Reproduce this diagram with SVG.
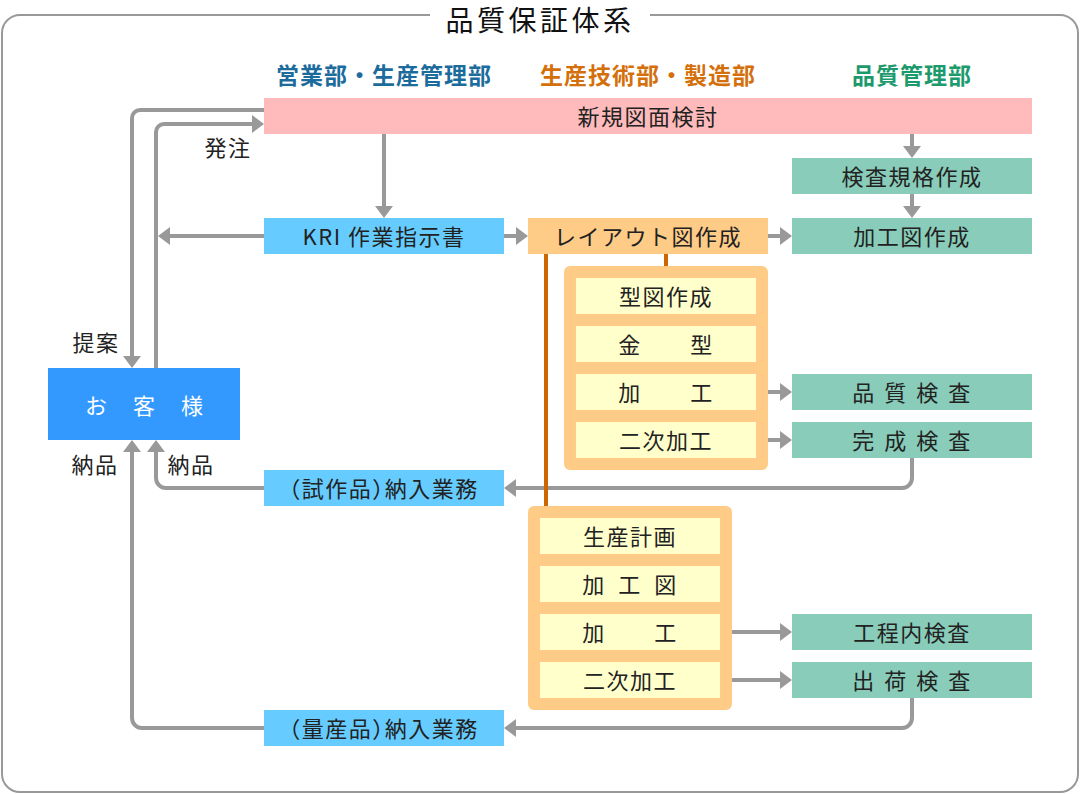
<svg xmlns="http://www.w3.org/2000/svg" width="1080" height="794" viewBox="0 0 1080 794">
<style>
text{font-family:"Noto Sans CJK JP","Noto Sans",sans-serif;text-anchor:middle;dominant-baseline:central}
.t{font-size:22px;fill:#222;letter-spacing:1.5px}
.p{font-feature-settings:"halt"}
.w{font-size:22px;fill:#fff}
.h{font-size:23px;font-weight:bold;letter-spacing:1px}
.ttl{font-size:28px;fill:#111;letter-spacing:3.5px}
.c{fill:none;stroke:#999;stroke-width:4}
.o{fill:none;stroke:#cc6600;stroke-width:4}
.pink{fill:#ffbbbb}
.blue{fill:#66ccff}
.org{fill:#ffcc88}
.teal{fill:#88ccb9}
.cream{fill:#ffffcc}
</style>
<defs>
<marker id="ah" viewBox="0 0 12 18" refX="0" refY="9" markerWidth="12" markerHeight="18" markerUnits="userSpaceOnUse" orient="auto">
<path d="M0,0 L12,9 L0,18 z" fill="#999"/>
</marker>
</defs>
<rect width="1080" height="794" fill="#fff"/>
<g id="frame">
<path d="M430 15 H20 A18 18 0 0 0 2 33 V774 A18 18 0 0 0 20 792 H1060 A18 18 0 0 0 1078 774 V33 A18 18 0 0 0 1060 15 H650" fill="none" stroke="#999" stroke-width="2"/>
<text class="ttl" x="540" y="19">品質保証体系</text>
</g>
<g id="headers">
<text class="h" x="384" y="74" fill="#1b6c9c">営業部・生産管理部</text>
<text class="h" x="648" y="74" fill="#d4700c">生産技術部・製造部</text>
<text class="h" x="912" y="74" fill="#1d9a6c">品質管理部</text>
</g>
<g id="connectors">
<path class="c" d="M264 110 H140 A8 8 0 0 0 132 118 V356" marker-end="url(#ah)"/>
<path class="c" d="M156 368 V132 A8 8 0 0 1 164 124 H252" marker-end="url(#ah)"/>
<path class="c" d="M384 134 V206" marker-end="url(#ah)"/>
<path class="c" d="M912 134 V146" marker-end="url(#ah)"/>
<path class="c" d="M912 194 V206" marker-end="url(#ah)"/>
<path class="c" d="M264 236 H170" marker-end="url(#ah)"/>
<path class="c" d="M504 236 H516" marker-end="url(#ah)"/>
<path class="c" d="M768 236 H780" marker-end="url(#ah)"/>
<path class="c" d="M768 392 H780" marker-end="url(#ah)"/>
<path class="c" d="M768 440 H780" marker-end="url(#ah)"/>
<path class="c" d="M912 458 V478 A10 10 0 0 1 902 488 H516" marker-end="url(#ah)"/>
<path class="c" d="M264 488 H166 A10 10 0 0 1 156 478 V452" marker-end="url(#ah)"/>
<path class="c" d="M732 632 H780" marker-end="url(#ah)"/>
<path class="c" d="M732 680 H780" marker-end="url(#ah)"/>
<path class="c" d="M912 698 V718 A10 10 0 0 1 902 728 H516" marker-end="url(#ah)"/>
<path class="c" d="M264 728 H142 A10 10 0 0 1 132 718 V452" marker-end="url(#ah)"/>
<path class="o" d="M546 254 V506"/>
<path class="o" d="M666 254 V266"/>
</g>
<g id="labels">
<text class="t" x="228" y="146">発注</text>
<text class="t" x="96" y="341">提案</text>
<text class="t" x="95" y="463">納品</text>
<text class="t" x="191" y="463">納品</text>
</g>
<g id="n-shinki"><rect class="pink" x="264" y="98" width="768" height="36"/><text class="t" x="648" y="115">新規図面検討</text></g>
<g id="n-kensakikaku"><rect class="teal" x="792" y="158" width="240" height="36"/><text class="t" x="912" y="175">検査規格作成</text></g>
<g id="n-kri"><rect class="blue" x="264" y="218" width="240" height="36"/><text class="t" x="384" y="235">KRI 作業指示書</text></g>
<g id="n-layout"><rect class="org" x="528" y="218" width="240" height="36"/><text class="t" x="648" y="235">レイアウト図作成</text></g>
<g id="n-kakouzu"><rect class="teal" x="792" y="218" width="240" height="36"/><text class="t" x="912" y="235">加工図作成</text></g>
<g id="n-okyakusama"><rect fill="#3399ff" x="48" y="368" width="192" height="72"/><text class="w" x="96 144 192" y="404">お客様</text></g>
<g id="n-proto-group">
<rect class="org" x="564" y="266" width="204" height="204" rx="6"/>
<rect class="cream" x="576" y="278" width="180" height="36"/><text class="t" x="666" y="295">型図作成</text>
<rect class="cream" x="576" y="326" width="180" height="36"/><text class="t" x="630 702" y="343">金型</text>
<rect class="cream" x="576" y="374" width="180" height="36"/><text class="t" x="630 702" y="391">加工</text>
<rect class="cream" x="576" y="422" width="180" height="36"/><text class="t" x="666" y="439">二次加工</text>
</g>
<g id="n-hinshitsu"><rect class="teal" x="792" y="374" width="240" height="36"/><text class="t" x="864 896 928 960" y="391">品質検査</text></g>
<g id="n-kansei"><rect class="teal" x="792" y="422" width="240" height="36"/><text class="t" x="864 896 928 960" y="439">完成検査</text></g>
<g id="n-proto-deliv"><rect class="blue" x="264" y="470" width="240" height="36"/><text class="t p" x="384" y="487">（試作品）納入業務</text></g>
<g id="n-mass-group">
<rect class="org" x="528" y="506" width="204" height="204" rx="6"/>
<rect class="cream" x="540" y="518" width="180" height="36"/><text class="t" x="630" y="535">生産計画</text>
<rect class="cream" x="540" y="566" width="180" height="36"/><text class="t" x="594 630 666" y="583">加工図</text>
<rect class="cream" x="540" y="614" width="180" height="36"/><text class="t" x="594 666" y="631">加工</text>
<rect class="cream" x="540" y="662" width="180" height="36"/><text class="t" x="630" y="679">二次加工</text>
</g>
<g id="n-kouteinai"><rect class="teal" x="792" y="614" width="240" height="36"/><text class="t" x="912" y="631">工程内検査</text></g>
<g id="n-shukka"><rect class="teal" x="792" y="662" width="240" height="36"/><text class="t" x="864 896 928 960" y="679">出荷検査</text></g>
<g id="n-mass-deliv"><rect class="blue" x="264" y="710" width="240" height="36"/><text class="t p" x="384" y="727">（量産品）納入業務</text></g>
</svg>
